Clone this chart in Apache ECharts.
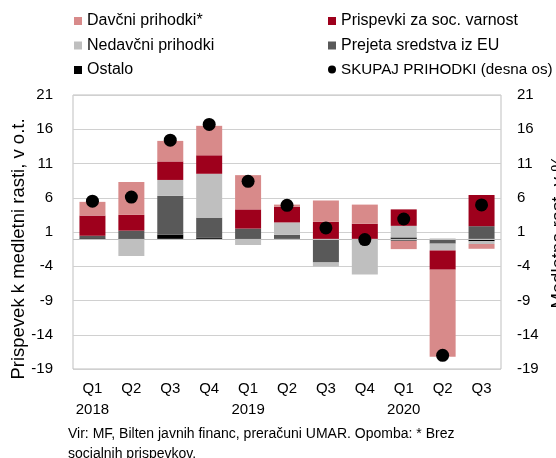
<!DOCTYPE html>
<html>
<head>
<meta charset="utf-8">
<script src="https://cdn.jsdelivr.net/npm/echarts@6/dist/echarts.min.js"></script>
<style>
  html, body { margin: 0; padding: 0; background: #fff; }
</style>
</head>
<body>
<div id="main" style="width: 556px;height:458px;"></div>
<script type="text/javascript">
    // kvartali
    var categories = ['Q1\n2018', 'Q2', 'Q3', 'Q4', 'Q1\n2019', 'Q2', 'Q3', 'Q4', 'Q1\n2020', 'Q2', 'Q3'];
    // prispevki k medletni rasti, v o.t.
    var ostalo   = [0.1, 0.1, 0.6, 0.2, 0.1, -0.1, -0.15, 0, 0.2, -0.1, -0.35];
    var sredstvaEU = [0.35, 1.1, 5.7, 2.9, 1.4, 0.6, -3.3, 0, -0.3, -0.6, 1.85];
    var nedavcni = [0, -2.5, 2.3, 6.4, -0.9, 1.8, -0.6, -5.2, 1.7, -1.0, -0.4];
    var socPrisp = [2.95, 2.3, 2.7, 2.7, 2.8, 2.3, 2.5, 2.2, 2.4, -2.8, 4.55];
    var davcni   = [2.0, 4.8, 3.0, 4.3, 5.0, 0.3, 3.1, 2.8, -1.2, -12.7, -0.7];
    // medletna rast, v %
    var skupaj   = [5.5, 6.1, 14.4, 16.7, 8.4, 4.9, 1.6, -0.1, 2.9, -17.0, 4.95];

    var fontFam = 'Liberation Sans';
    var myChart = echarts.init(document.getElementById('main'));

    function barSeries(name, data, color) {
        return {
            name: name,
            type: 'bar',
            stack: 'prihodki',
            data: data,
            barWidth: 26,
            itemStyle: { color: color },
            animation: false
        };
    }

    var option = {
        backgroundColor: '#fff',
        textStyle: { fontFamily: fontFam },
        grid: {
            left: 73, right: 55, top: 95, bottom: 89,
            outerBoundsMode: 'none', containLabel: false,
            show: true, borderColor: '#bfbfbf', borderWidth: 1
        },
        legend: [{
            orient: 'vertical', left: 74, top: 13, padding: 0,
            itemWidth: 8, itemHeight: 8, itemGap: 8.5,
            textStyle: { fontSize: 16, color: '#000', fontFamily: fontFam },
            data: [
                { name: 'Davčni prihodki*', icon: 'rect' },
                { name: 'Nedavčni prihodki', icon: 'rect' },
                { name: 'Ostalo', icon: 'rect' }
            ]
        }, {
            orient: 'vertical', left: 328, top: 13, padding: 0,
            itemWidth: 8, itemHeight: 8, itemGap: 8.5,
            textStyle: { fontSize: 16, color: '#000', fontFamily: fontFam },
            data: [
                { name: 'Prispevki za soc. varnost', icon: 'rect' },
                { name: 'Prejeta sredstva iz EU', icon: 'rect' },
                { name: 'SKUPAJ PRIHODKI (desna os)', icon: 'circle', textStyle: { fontSize: 15.2 } }
            ]
        }],
        xAxis: {
            type: 'category',
            data: categories,
            axisLine: { show: false },
            axisTick: { show: false },
            axisLabel: { interval: 0, fontSize: 15, color: '#000', lineHeight: 21, margin: 9 }
        },
        yAxis: [{
            type: 'value',
            min: -19, max: 21, interval: 5,
            name: 'Prispevek k medletni rasti, v o.t.',
            nameLocation: 'middle', nameGap: 45, nameRotate: 90,
            nameMoveOverlap: false,
            nameTextStyle: { fontSize: 18.5, color: '#000', padding: [0, 34, 0, 0] },
            axisLine: { show: false },
            axisTick: { show: false },
            axisLabel: { fontSize: 15, color: '#000', margin: 20 },
            splitLine: { lineStyle: { color: '#d0d0d0', width: 1 } }
        }, {
            type: 'value',
            position: 'right',
            min: -19, max: 21, interval: 5,
            name: 'Medletna rast, v %',
            nameLocation: 'middle', nameGap: 46, nameRotate: 90,
            nameTextStyle: { fontSize: 18.5, color: '#000' },
            axisLine: { show: false },
            axisTick: { show: false },
            axisLabel: { fontSize: 15, color: '#000', margin: 16 },
            splitLine: { show: false }
        }],
        series: [
            Object.assign(barSeries('Ostalo', ostalo, '#000000'), {
                markLine: {
                    silent: true, symbol: 'none', animation: false,
                    label: { show: false },
                    lineStyle: { color: '#bfbfbf', type: 'solid', width: 1 },
                    data: [{ yAxis: 0 }]
                }
            }),
            barSeries('Prejeta sredstva iz EU', sredstvaEU, '#595959'),
            barSeries('Nedavčni prihodki', nedavcni, '#bfbfbf'),
            barSeries('Prispevki za soc. varnost', socPrisp, '#9e001c'),
            barSeries('Davčni prihodki*', davcni, '#d88a8a'),
            {
                name: 'SKUPAJ PRIHODKI (desna os)',
                type: 'scatter',
                yAxisIndex: 1,
                data: skupaj,
                symbolSize: 13,
                itemStyle: { color: '#000', opacity: 1 },
                z: 5,
                animation: false
            }
        ],
        graphic: [{
            type: 'text', left: 68, top: 424,
            style: {
                text: 'Vir: MF, Bilten javnih financ, preračuni UMAR. Opomba: * Brez\nsocialnih prispevkov.',
                font: '14px "Liberation Sans"', fill: '#000', lineHeight: 20
            }
        }]
    };
    myChart.setOption(option);
</script>
</body>
</html>
